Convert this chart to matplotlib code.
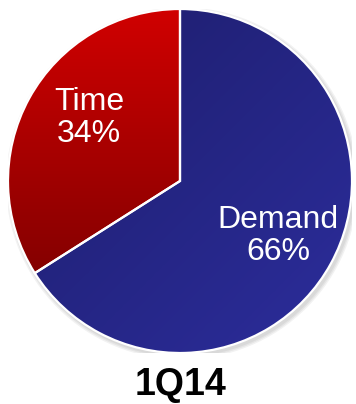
import matplotlib.pyplot as plt
import numpy as np
from matplotlib.colors import LinearSegmentedColormap

labels = ['Demand', 'Time']
shares = [66, 34]
title = '1Q14'

# gradient end colours per slice (start, end)
grads = [('#1d1d6a', '#2c2d9c'), ('#d00000', '#6e0000')]

fig = plt.figure(figsize=(3.56, 4.04), dpi=100)
ax = fig.add_axes([8 / 356, (404 - 353) / 404, 344 / 356, 344 / 404])

# soft shadow behind the pie
for i, a in enumerate([0.05, 0.05, 0.05]):
    sh = plt.Circle((0.012, -0.014), 1.0 + 0.008 * (i + 1), color='black', alpha=a, lw=0, zorder=0)
    ax.add_patch(sh)

wedges, _ = ax.pie(shares, startangle=90, counterclock=False, radius=1.0,
                   wedgeprops=dict(edgecolor='white', linewidth=1.6))

yy, xx = np.mgrid[1:-1:300j, -1:1:300j]
fields = [(xx - yy) / 2.0, (1 - yy) / 2.0]  # diagonal for Demand, vertical for Time
for w, (c0, c1), f in zip(wedges, grads, fields):
    cmap = LinearSegmentedColormap.from_list('g', [c0, c1])
    f = (f - f.min()) / (f.max() - f.min())
    im = ax.imshow(f, cmap=cmap, extent=[-1, 1, -1, 1], zorder=1, interpolation='bilinear')
    im.set_clip_path(w)
    w.set_facecolor('none')
    w.set_zorder(2)

ax.text(-0.53, 0.366, f'{labels[1]}\n{shares[1]}%', color='white', fontsize=23,
        family='Liberation Sans', ha='center', va='center', linespacing=1.05, zorder=3)
ax.text(0.57, -0.32, f'{labels[0]}\n{shares[0]}%', color='white', fontsize=23,
        family='Liberation Sans', ha='center', va='center', linespacing=1.05, zorder=3)

ax.set_xlim(-1.0, 1.0)
ax.set_ylim(-1.0, 1.0)
ax.axis('off')

fig.text(181 / 356, 1 - 385 / 404, title, fontsize=27, fontweight='bold',
         family='Liberation Sans', ha='center', va='center')

fig.savefig('out.png', dpi=100)
